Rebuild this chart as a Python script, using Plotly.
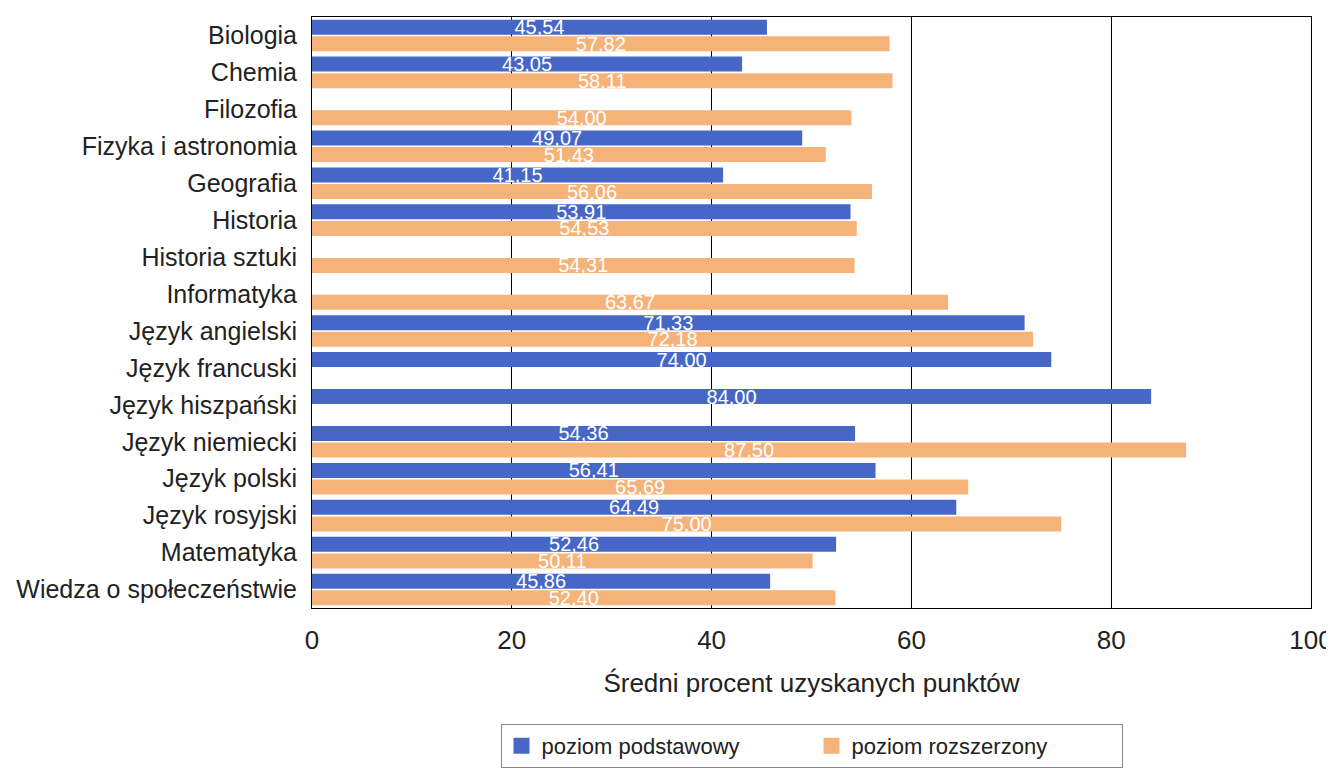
import plotly.graph_objects as go

# data
subjects = ['Biologia', 'Chemia', 'Filozofia', 'Fizyka i astronomia', 'Geografia', 'Historia',
            'Historia sztuki', 'Informatyka', 'Język angielski', 'Język francuski', 'Język hiszpański',
            'Język niemiecki', 'Język polski', 'Język rosyjski', 'Matematyka', 'Wiedza o społeczeństwie']
podstawowy = [45.54, 43.05, None, 49.07, 41.15, 53.91, None, None, 71.33, 74.00, 84.00,
              54.36, 56.41, 64.49, 52.46, 45.86]
rozszerzony = [57.82, 58.11, 54.00, 51.43, 56.06, 54.53, 54.31, 63.67, 72.18, None, None,
               87.50, 65.69, 75.00, 50.11, 52.40]
series_names = ['poziom podstawowy', 'poziom rozszerzony']
x_ticks = [0, 20, 40, 60, 80, 100]

blue = '#4767c6'
orange = '#f5b37a'
font_family = 'Liberation Sans, Arial, sans-serif'

fig = go.Figure()

# bars: basic level first so it sits on top in each group
for vals, color in [(podstawowy, blue), (rozszerzony, orange)]:
    fig.add_trace(go.Bar(
        y=subjects,
        x=vals,
        orientation='h',
        showlegend=False,
        marker=dict(color=color, line=dict(width=0)),
        texttemplate='%{x:.2f}',
        textposition='inside',
        insidetextanchor='middle',
        constraintext='none',
        textfont=dict(color='white', size=20, family=font_family),
    ))

# legend entries with bigger square swatches
for name, color in zip(series_names, [blue, orange]):
    fig.add_trace(go.Scatter(
        x=[None],
        y=[None],
        mode='markers',
        name=name,
        marker=dict(symbol='square', size=20, color=color),
    ))

# page body adds 8px around the figure, so the figure is a bit smaller than the window
fig.update_layout(
    width=1326,
    height=770,
    barmode='group',
    bargap=0.1,
    bargroupgap=0.1,
    separators=', ',
    paper_bgcolor='white',
    plot_bgcolor='white',
    font=dict(family=font_family, size=25, color='#222222'),
    margin=dict(l=304, r=23, t=9, b=170, autoexpand=False),
    legend=dict(
        orientation='h',
        xanchor='center',
        yanchor='top',
        x=0.5,
        y=-0.196,
        bordercolor='#888888',
        borderwidth=1,
        font=dict(size=22, color='#222222'),
        itemsizing='trace',
        traceorder='normal',
        entrywidth=265,
    ),
)

fig.update_xaxes(
    range=[0, 100],
    tickvals=x_ticks,
    ticks='',
    ticklabelstandoff=9,
    tickfont=dict(size=26),
    showgrid=True,
    gridcolor='black',
    gridwidth=1,
    showline=True,
    linecolor='black',
    linewidth=1,
    mirror=True,
    zeroline=False,
    automargin=False,
    title=dict(text='Średni procent uzyskanych punktów', standoff=19, font=dict(size=26)),
)
fig.update_yaxes(
    autorange='reversed',
    showline=True,
    linecolor='black',
    linewidth=1,
    mirror=True,
    ticks='',
    showgrid=False,
    automargin=False,
    ticklabelstandoff=9,
)

fig.write_html('out.html')
